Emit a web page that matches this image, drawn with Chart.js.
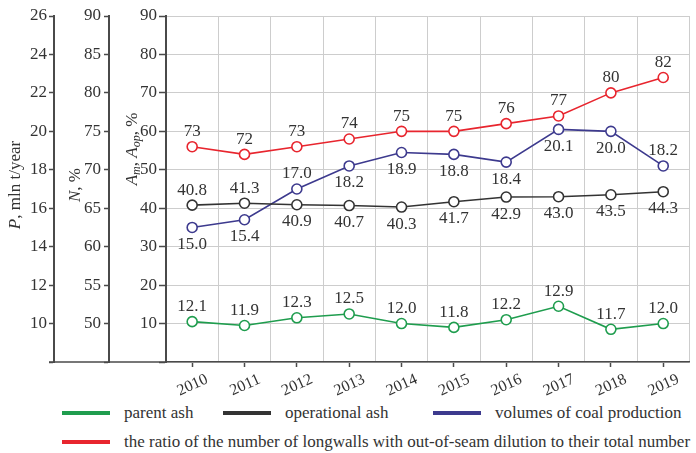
<!DOCTYPE html>
<html>
<head>
<meta charset="utf-8">
<script src="https://cdn.jsdelivr.net/npm/chart.js@4.4.0/dist/chart.umd.min.js"></script>
<style>
  body { margin: 0; background: #fff; }
  #wrap { position: relative; width: 696px; height: 453px; font-family: "Liberation Serif", "Times New Roman", serif; color: #333; }
  #box { position: absolute; left: 0; top: 0; width: 696px; height: 398px; }
  .legend-item { position: absolute; display: flex; align-items: center; font-size: 17px; line-height: 18px; white-space: nowrap; }
  .legend-item i { display: inline-block; width: 48px; height: 4px; margin-right: 14px; }
</style>
</head>
<body>
<div id="wrap">
  <div id="box"><canvas id="chart"></canvas></div>
  <div id="legend"></div>
</div>
<script>
const years = ["2010", "2011", "2012", "2013", "2014", "2015", "2016", "2017", "2018", "2019"];

const parentAsh   = [12.1, 11.9, 12.3, 12.5, 12.0, 11.8, 12.2, 12.9, 11.7, 12.0];
const operAsh     = [40.8, 41.3, 40.9, 40.7, 40.3, 41.7, 42.9, 43.0, 43.5, 44.3];
const production  = [15.0, 15.4, 17.0, 18.2, 18.9, 18.8, 18.4, 20.1, 20.0, 18.2];
const dilution    = [73, 72, 73, 74, 75, 75, 76, 77, 80, 82];

// tick values of the three left axes
const pTicks  = [8, 10, 12, 14, 16, 18, 20, 22, 24, 26];
const nTicks  = [45, 50, 55, 60, 65, 70, 75, 80, 85, 90];
const amTicks = [0, 10, 20, 30, 40, 50, 60, 70, 80, 90];

// where the value text goes, above or below the point
const operPos = ["up", "up", "down", "down", "down", "down", "down", "down", "down", "down"];
const prodPos = ["down", "down", "up", "down", "down", "down", "down", "down", "down", "up"];

const SERIF = "'Liberation Serif', 'Times New Roman', serif";
const ink = "#333";
const axisInk = "#4a4a4a";

function leftAxis(ticks, width, tickLen, pad, extra) {
    return Object.assign({
        position: "left",
        min: ticks[0],
        max: ticks[ticks.length - 1],
        afterBuildTicks: s => { s.ticks = ticks.map(v => ({ value: v })); },
        afterFit: s => { s.width = width; },
        border: { color: axisInk, width: 2 },
        grid: { drawOnChartArea: false, tickLength: tickLen, tickColor: axisInk, tickWidth: 1.5 },
        ticks: {
            color: ink,
            padding: pad,
            font: { family: SERIF, size: 17 },
            callback: v => (v === ticks[0] ? "" : v)
        }
    }, extra || {});
}

function series(label, data, color, axis, digits, pos) {
    return {
        label: label,
        data: data,
        yAxisID: axis,
        xAxisID: "x",
        borderColor: color,
        backgroundColor: "#fff",
        borderWidth: 1.6,
        pointRadius: 5,
        pointBorderWidth: 1.6,
        pointBackgroundColor: "#fff",
        pointBorderColor: color,
        tension: 0,
        digits: digits,
        labelPos: pos
    };
}

// value text next to every point
const valueLabels = {
    id: "valueLabels",
    afterDatasetsDraw(chart) {
        const ctx = chart.ctx;
        ctx.save();
        ctx.font = "17px " + SERIF;
        ctx.fillStyle = ink;
        ctx.textAlign = "center";
        ctx.textBaseline = "middle";
        chart.data.datasets.forEach((ds, i) => {
            chart.getDatasetMeta(i).data.forEach((pt, j) => {
                const where = ds.labelPos ? ds.labelPos[j] : "up";
                const dy = where === "up" ? -15 : 17;
                ctx.fillText(ds.data[j].toFixed(ds.digits), pt.x, pt.y + dy);
            });
        });
        ctx.restore();
    }
};

// rotated axis titles with italic letters and subscripts, plus the base line
function richText(ctx, parts, cx, cy) {
    const fontOf = p => (p.it ? "italic " : "") + (p.sub ? "12px " : "17px ") + SERIF;
    const widths = parts.map(p => { ctx.font = fontOf(p); return ctx.measureText(p.t).width; });
    const total = widths.reduce((a, b) => a + b, 0);
    ctx.save();
    ctx.translate(cx, cy);
    ctx.rotate(-Math.PI / 2);
    let x = -total / 2;
    parts.forEach((p, i) => {
        ctx.font = fontOf(p);
        ctx.fillText(p.t, x, p.sub ? 4 : 0);
        x += widths[i];
    });
    ctx.restore();
}

const axisDecor = {
    id: "axisDecor",
    afterDraw(chart) {
        const ctx = chart.ctx;
        const area = chart.chartArea;
        const pAxis = chart.scales.yP;
        ctx.save();
        ctx.strokeStyle = axisInk;
        ctx.lineWidth = 1.5;
        ctx.beginPath();
        ctx.moveTo(pAxis.right - 5, area.bottom);
        ctx.lineTo(area.left, area.bottom);
        ctx.stroke();

        ctx.fillStyle = ink;
        ctx.textAlign = "left";
        ctx.textBaseline = "middle";
        richText(ctx, [{ t: "P", it: true }, { t: ", mln t/year" }], 16, 185);
        richText(ctx, [{ t: "N", it: true }, { t: ", %" }], 76, 185);
        richText(ctx, [
            { t: "A", it: true }, { t: "m", it: true, sub: true }, { t: ", " },
            { t: "A", it: true }, { t: "op", it: true, sub: true }, { t: ", %" }
        ], 133, 149);
        ctx.restore();
    }
};

const chart = new Chart(document.getElementById("chart"), {
    type: "line",
    data: {
        labels: years,
        datasets: [
            series("parent ash", parentAsh, "#1f9d4e", "yG", 1, null),
            series("operational ash", operAsh, "#333333", "y", 1, operPos),
            series("volumes of coal production", production, "#3d3a8e", "yP", 1, prodPos),
            series("the ratio of the number of longwalls with out-of-seam dilution to their total number", dilution, "#e8252e", "yN", 0, null)
        ]
    },
    options: {
        responsive: true,
        maintainAspectRatio: false,
        animation: false,
        layout: { padding: { top: 16, left: 0, right: 0, bottom: 0 } },
        plugins: {
            legend: { display: false },
            tooltip: { enabled: false }
        },
        scales: {
            // short marks under each year
            xt: {
                type: "category",
                position: "bottom",
                labels: years,
                offset: true,
                afterFit: s => { s.height = 5; },
                border: { color: axisInk, width: 1.5 },
                grid: { offset: false, drawOnChartArea: false, tickLength: 5, tickColor: axisInk, tickWidth: 1.5 },
                ticks: { display: false }
            },
            x: {
                type: "category",
                position: "bottom",
                offset: true,
                afterFit: s => { s.height = 31; },
                border: { display: false },
                grid: { offset: true, color: "#cdcdcd", lineWidth: 1, drawTicks: false },
                ticks: {
                    color: ink,
                    font: { family: SERIF, size: 16 },
                    minRotation: 24,
                    maxRotation: 24,
                    labelOffset: 15,
                    padding: 3
                }
            },
            y: leftAxis(amTicks, 57, 7, 2, {
                grid: { drawOnChartArea: true, color: "#cdcdcd", lineWidth: 1, tickLength: 7, tickColor: axisInk, tickWidth: 1.5 }
            }),
            yN: leftAxis(nTicks, 55, 5, 3),
            yP: leftAxis(pTicks, 54, 5, 2),
            // parent ash sits on its own stretched scale
            yG: { display: false, min: 10, max: 28 }
        }
    },
    plugins: [valueLabels, axisDecor]
});

// legend
const legendSpots = [[62, 404], [223, 404], [433, 404], [62, 433]];
const legendBox = document.getElementById("legend");
chart.data.datasets.forEach((ds, i) => {
    const item = document.createElement("div");
    item.className = "legend-item";
    item.style.left = legendSpots[i][0] + "px";
    item.style.top = legendSpots[i][1] + "px";
    item.innerHTML = '<i style="background:' + ds.borderColor + '"></i>' + ds.label;
    legendBox.appendChild(item);
});
</script>
</body>
</html>
